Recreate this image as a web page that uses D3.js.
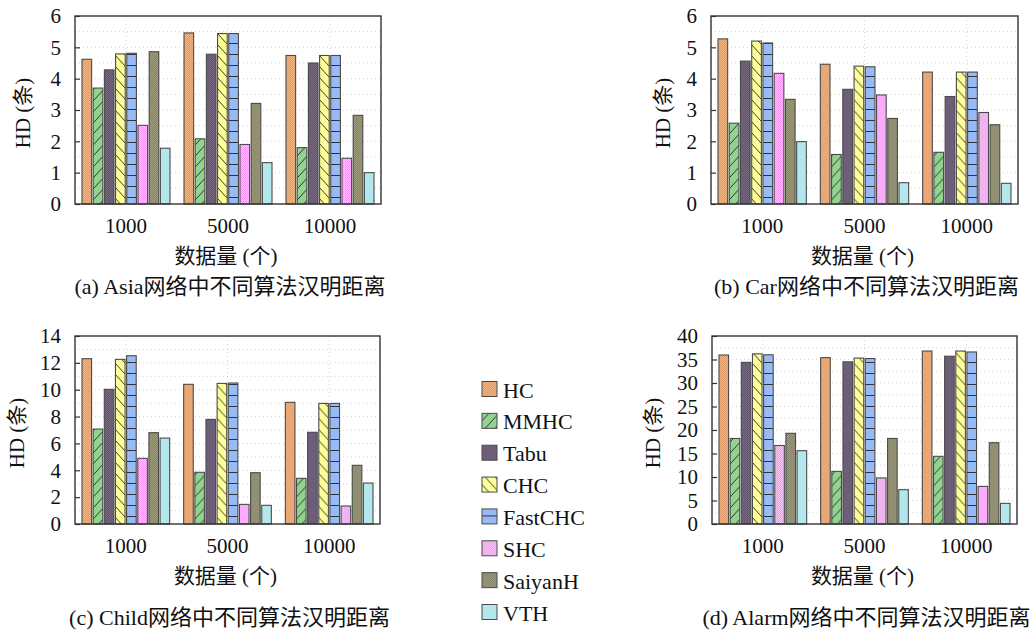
<!DOCTYPE html>
<html><head><meta charset="utf-8">
<script src="https://cdn.jsdelivr.net/npm/d3@7"></script>
<style>
  body { margin: 0; background: #fff; }
  text { font-family: "Liberation Serif", "Times New Roman", "DejaVu Serif", serif, "Noto Sans CJK SC"; fill: #111; }
</style>
</head><body>
<svg id="chart" width="1031" height="632"></svg>
<script>
// Sample sizes (x groups) and algorithms (bars within a group)
const categories = ["1000", "5000", "10000"];
const algorithms = ["HC", "MMHC", "Tabu", "CHC", "FastCHC", "SHC", "SaiyanH", "VTH"];

// Hamming distance per network: one row per sample size, one value per algorithm
const asiaHD  = [[4.62, 3.70, 4.28, 4.79, 4.81, 2.51, 4.86, 1.78],
                 [5.46, 2.08, 4.78, 5.44, 5.44, 1.90, 3.21, 1.32],
                 [4.74, 1.80, 4.50, 4.74, 4.74, 1.46, 2.83, 1.00]];
const carHD   = [[5.27, 2.58, 4.56, 5.20, 5.14, 4.17, 3.34, 1.99],
                 [4.46, 1.58, 3.66, 4.40, 4.38, 3.48, 2.73, 0.68],
                 [4.21, 1.65, 3.43, 4.21, 4.21, 2.92, 2.53, 0.66]];
const childHD = [[12.31, 7.07, 10.03, 12.26, 12.53, 4.89, 6.80, 6.40],
                 [10.40, 3.85, 7.79, 10.47, 10.50, 1.46, 3.82, 1.39],
                 [9.06, 3.40, 6.83, 8.98, 8.98, 1.34, 4.37, 3.05]];
const alarmHD = [[35.95, 18.2, 34.4, 36.2, 36.0, 16.7, 19.3, 15.6],
                 [35.4, 11.2, 34.5, 35.3, 35.2, 9.8, 18.2, 7.3],
                 [36.8, 14.4, 35.7, 36.8, 36.6, 8.0, 17.3, 4.4]];

// Y-axis tick values for each network
const asiaTicks  = [0, 1, 2, 3, 4, 5, 6];
const carTicks   = [0, 1, 2, 3, 4, 5, 6];
const childTicks = [0, 2, 4, 6, 8, 10, 12, 14];
const alarmTicks = [0, 5, 10, 15, 20, 25, 30, 35, 40];

// Captions
const captions = ["(a) Asia网络中不同算法汉明距离", "(b) Car网络中不同算法汉明距离",
                  "(c) Child网络中不同算法汉明距离", "(d) Alarm网络中不同算法汉明距离"];
const xTitle = "数据量 (个)";
const yTitle = "HD (条)";

const svg = d3.select("#chart");
const defs = svg.append("defs");

// Fill patterns for each algorithm
function checker(id, a, b) {
  const p = defs.append("pattern").attr("id", id).attr("patternUnits", "userSpaceOnUse")
    .attr("width", 2).attr("height", 2);
  p.append("rect").attr("width", 2).attr("height", 2).attr("fill", a);
  p.append("rect").attr("width", 1).attr("height", 1).attr("fill", b);
  p.append("rect").attr("x", 1).attr("y", 1).attr("width", 1).attr("height", 1).attr("fill", b);
}
function hatch(id, bg, d, w, h) {
  const p = defs.append("pattern").attr("id", id).attr("patternUnits", "userSpaceOnUse")
    .attr("width", w).attr("height", h);
  p.append("rect").attr("width", w).attr("height", h).attr("fill", bg);
  p.append("path").attr("d", d).attr("stroke", "#222").attr("stroke-width", 0.9).attr("fill", "none");
}
checker("p0", "#f3b683", "#dd9a68");
hatch("p1", "#92d48f", "M0,11 L10,0 M-1,1 L1,-1 M9,12 L11,10", 10, 11);
checker("p2", "#76687f", "#625570");
hatch("p3", "#ffff99", "M0,0 L10,11 M-1,10 L1,12 M9,-1 L11,1", 10, 11);
hatch("p4", "#99bbf5", "M0,10.5 L12,10.5", 12, 11);
checker("p5", "#f291f2", "#fbcdfb");
checker("p6", "#9d9b7a", "#86846a");
const swatchFill = algorithms.map((a, i) => i === 7 ? "#b2e7ec" : `url(#p${i})`);

const panels = [
  { data: asiaHD,  ticks: asiaTicks,  max: 6,  x0: 75,  x1: 381,  y0: 16,  y1: 204, yLabX: 23,  caption: captions[0] },
  { data: carHD,   ticks: carTicks,   max: 6,  x0: 711, x1: 1018, y0: 16,  y1: 204, yLabX: 663, caption: captions[1] },
  { data: childHD, ticks: childTicks, max: 14, x0: 75,  x1: 380,  y0: 336, y1: 524, yLabX: 17,  caption: captions[2] },
  { data: alarmHD, ticks: alarmTicks, max: 40, x0: 712, x1: 1017, y0: 336, y1: 524, yLabX: 653, caption: captions[3] }
];

panels.forEach(p => {
  const g = svg.append("g");
  const x = d3.scaleBand().domain(categories).range([p.x0, p.x1]).padding(0);
  const inner = d3.scaleBand().domain(algorithms).range([7, x.bandwidth() - 7]).paddingInner(0.14);
  const y = d3.scaleLinear().domain([0, p.max]).range([p.y1, p.y0]);
  const step = p.ticks[1] - p.ticks[0];
  const gridVals = d3.range(0, p.max + step / 4, step / 2);

  // dotted grid
  g.append("g").selectAll("line.h").data(gridVals.filter(v => v > 0 && v < p.max)).join("line")
    .attr("x1", p.x0).attr("x2", p.x1).attr("y1", d => y(d)).attr("y2", d => y(d))
    .attr("stroke", "#c8c8c8").attr("stroke-width", 0.8).attr("stroke-dasharray", "1,3");
  g.append("g").selectAll("line.v").data(categories).join("line")
    .attr("x1", d => x(d) + x.bandwidth() / 2).attr("x2", d => x(d) + x.bandwidth() / 2)
    .attr("y1", p.y0).attr("y2", p.y1)
    .attr("stroke", "#c8c8c8").attr("stroke-width", 0.8).attr("stroke-dasharray", "1,3");

  // bars
  const groups = g.append("g").selectAll("g").data(categories).join("g")
    .attr("transform", d => `translate(${x(d)},0)`);
  groups.selectAll("rect").data((c, ci) => p.data[ci].map((v, i) => ({ a: algorithms[i], v, i })))
    .join("rect")
    .attr("x", d => inner(d.a)).attr("width", inner.bandwidth())
    .attr("y", d => y(d.v)).attr("height", d => y(0) - y(d.v))
    .attr("fill", d => swatchFill[d.i])
    .attr("stroke", "#4a4a4a").attr("stroke-width", 1.1);

  // frame
  g.append("rect").attr("x", p.x0).attr("y", p.y0).attr("width", p.x1 - p.x0).attr("height", p.y1 - p.y0)
    .attr("fill", "none").attr("stroke", "#333").attr("stroke-width", 1.4);

  // y axis: inward ticks, labels on the left
  const yAxis = d3.axisLeft(y).tickValues(p.ticks).tickSize(-5).tickPadding(14).tickFormat(d3.format("d"));
  const ya = g.append("g").attr("transform", `translate(${p.x0},0)`).call(yAxis);
  ya.attr("font-family", null).attr("font-size", null);
  ya.select(".domain").remove();
  ya.selectAll(".tick line").attr("stroke", "#333").attr("stroke-width", 1.2);
  ya.selectAll(".tick text").style("font-size", "21px").attr("fill", "#111");

  // x axis labels
  const xAxis = d3.axisBottom(x).tickSize(0).tickPadding(0);
  const xa = g.append("g").attr("transform", `translate(0,${p.y1})`).call(xAxis);
  xa.attr("font-family", null).attr("font-size", null);
  xa.select(".domain").remove();
  xa.selectAll(".tick text").attr("dy", null).attr("y", 29).style("font-size", "21px").attr("fill", "#111");

  const cx = (p.x0 + p.x1) / 2;
  g.append("text").attr("x", cx - 2).attr("y", p.y1 + 59).attr("text-anchor", "middle")
    .style("font-size", "21px").text(xTitle);
  g.append("text").attr("transform", `translate(${p.yLabX},${(p.y0 + p.y1) / 2 + 3}) rotate(-90)`)
    .attr("text-anchor", "middle").attr("dominant-baseline", "central").style("font-size", "21px").text(yTitle);
  g.append("text").attr("x", cx + 2).attr("y", p.y1 + (p.y0 < 100 ? 90 : 101)).attr("text-anchor", "middle")
    .style("font-size", "22px").text(p.caption);
});

// legend
const legend = svg.append("g");
const ly = d3.scalePoint().domain(algorithms).range([389, 612]);
const li = legend.selectAll("g").data(algorithms).join("g")
  .attr("transform", d => `translate(482,${ly(d)})`);
li.append("rect").attr("x", 0).attr("y", -7.5).attr("width", 15).attr("height", 15)
  .attr("fill", (d, i) => swatchFill[i]).attr("stroke", "#4a4a4a").attr("stroke-width", 1);
li.append("text").attr("x", 21).attr("y", 1).attr("dominant-baseline", "central")
  .style("font-size", "22px").text(d => d);
</script>
</body></html>
